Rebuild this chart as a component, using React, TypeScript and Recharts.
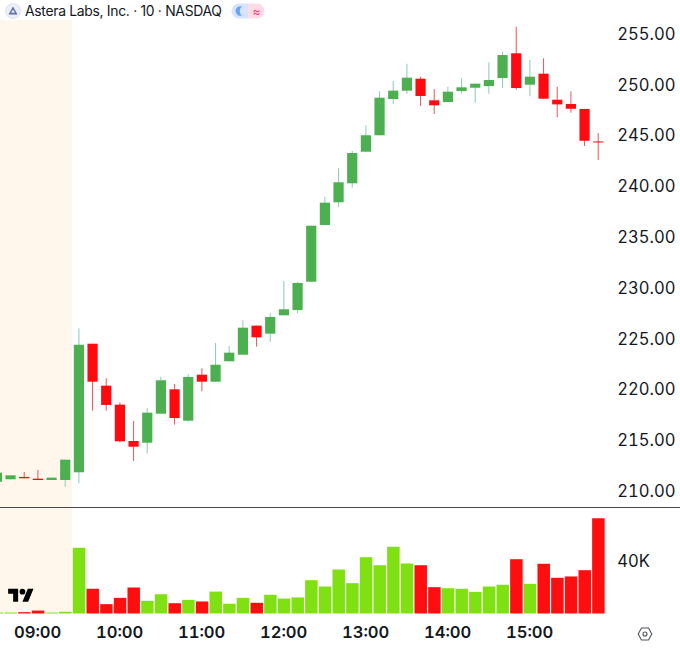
import { Bar, BarChart, Cell, ComposedChart, ReferenceArea, XAxis, YAxis } from "recharts";

const times = [
  "08:30", "08:40", "08:50", "09:00", "09:10", "09:20", "09:30", "09:40", "09:50",
  "10:00", "10:10", "10:20", "10:30", "10:40", "10:50", "11:00", "11:10", "11:20",
  "11:30", "11:40", "11:50", "12:00", "12:10", "12:20", "12:30", "12:40", "12:50",
  "13:00", "13:10", "13:20", "13:30", "13:40", "13:50", "14:00", "14:10", "14:20",
  "14:30", "14:40", "14:50", "15:00", "15:10", "15:20", "15:30", "15:40", "15:50",
];
const opens = [
  210.84, 211.08, 211.31, 211.14, 211.01, 211.01, 211.77, 224.43, 220.3,
  218.43, 214.85, 214.68, 217.54, 219.94, 216.85, 221.38, 220.69, 222.7,
  223.35, 226.21, 225.42, 227.23, 227.75, 230.54, 236.12, 238.36, 240.23,
  243.34, 244.96, 248.53, 249.35, 250.53, 248.4, 248.23, 249.32, 249.64,
  249.81, 250.6, 253.03, 249.94, 251.02, 248.46, 248.04, 247.55, 244.35,
];
const highs = [
  211.73, 211.47, 211.8, 212.0, 211.24, 213.01, 225.95, 224.43, 221.03,
  218.66, 216.82, 218.1, 221.18, 220.47, 221.42, 222.01, 224.5, 224.2,
  226.74, 226.21, 227.43, 230.58, 230.54, 236.05, 238.91, 241.71, 243.41,
  245.94, 249.29, 250.3, 252.0, 250.73, 249.51, 249.74, 250.57, 250.04,
  252.14, 253.16, 255.65, 252.37, 252.54, 249.74, 249.29, 247.55, 245.18,
];
const lows = [
  210.84, 211.08, 211.15, 211.0, 211.01, 210.35, 210.69, 217.84, 217.84,
  214.72, 212.88, 213.64, 217.54, 216.46, 216.75, 219.75, 220.69, 222.7,
  223.35, 224.14, 224.63, 227.23, 227.43, 230.54, 236.12, 237.9, 239.8,
  243.34, 244.96, 248.04, 249.05, 247.84, 247.05, 248.23, 249.09, 248.17,
  249.05, 249.61, 249.45, 248.83, 248.56, 246.73, 247.18, 243.9, 242.52,
];
const closes = [
  211.73, 211.47, 211.18, 211.01, 211.24, 213.01, 224.33, 220.69, 218.4,
  214.82, 214.29, 217.64, 220.83, 217.11, 221.16, 220.69, 222.36, 223.55,
  226.01, 225.06, 227.06, 227.82, 230.41, 236.05, 238.32, 240.33, 243.21,
  244.96, 248.66, 249.35, 250.63, 248.83, 247.91, 249.25, 249.68, 250.04,
  250.4, 252.86, 249.61, 250.73, 248.56, 248.0, 247.57, 244.42, 244.3,
];
const volumes = [
  700, 700, 1000, 2200, 700, 1300, 49100, 18500, 7000,
  11700, 19400, 9500, 14400, 7700, 10200, 9000, 16400, 7300,
  11700, 8000, 14000, 11200, 12000, 24900, 20200, 32900, 22700,
  42100, 36100, 49900, 37400, 36100, 19700, 18900, 18500, 16200,
  20200, 21500, 40600, 22200, 37200, 26700, 27700, 32400, 71300,
];
const priceTicks = [210, 215, 220, 225, 230, 235, 240, 245, 250, 255];
const volumeTicks = [40000];
const timeTicks = ["09:00", "10:00", "11:00", "12:00", "13:00", "14:00", "15:00"];

const chartData = times.map((time, i) => ({
  time,
  open: opens[i],
  high: highs[i],
  low: lows[i],
  close: closes[i],
  volume: volumes[i],
  range: [lows[i], highs[i]],
}));

const UP = "#4caf50";
const DOWN = "#ff0a0f";
const UP_WICK = "#86cbb6";
const DOWN_WICK = "#e8565c";
const VOL_UP = "#80e112";
const VOL_DOWN = "#ff0e10";
const SESSION = "#fff6ec";
const TEXT = "#131722";
const FONT = "Inter, 'Noto Sans', sans-serif";
const TNUM = { fontVariantNumeric: "tabular-nums" };

function Candle(props: any) {
  const { x, y, width, height, payload } = props;
  const { open, high, low, close } = payload;
  const toY = (v: number) => y + ((high - v) / (high - low)) * height;
  const up = close >= open;
  const top = toY(Math.max(open, close));
  const bottom = toY(Math.min(open, close));
  const mid = x + width / 2;
  return (
    <g>
      <line x1={mid} x2={mid} y1={y} y2={y + height} stroke={up ? UP_WICK : DOWN_WICK} strokeWidth={1} />
      <rect
        x={x}
        y={top}
        width={width}
        height={Math.max(bottom - top, 1)}
        fill={up ? UP : DOWN}
      />
    </g>
  );
}

function Header() {
  return (
    <div
      style={{
        position: "absolute",
        left: 0,
        top: 0,
        width: 300,
        height: 20,
        background: "#fff",
        fontFamily: FONT,
      }}
    >
      <svg width={18} height={18} style={{ position: "absolute", left: 4, top: 2 }}>
        <circle cx={9} cy={9} r={7.5} fill="#eceef8" stroke="#dfe2f0" />
        <path d="M9 4.5 L13.5 12.5 L4.5 12.5 Z M9 7.5 L7 10.8 L11 10.8 Z" fill="#5c6fa8" fillRule="evenodd" />
      </svg>
      <span
        style={{
          position: "absolute",
          left: 25,
          top: 1,
          fontSize: 13.9,
          letterSpacing: -0.3,
          lineHeight: "20px",
          color: TEXT,
          whiteSpace: "nowrap",
        }}
      >
        Astera Labs, Inc. · 10 · NASDAQ
      </span>
      <svg width={36} height={16} style={{ position: "absolute", left: 230, top: 3 }}>
        <path d="M9 0.5 H18 V15.5 H9 A7.5 7.5 0 0 1 9 0.5 Z" fill="#d6e4ff" />
        <path d="M18 0.5 H27 A7.5 7.5 0 0 1 27 15.5 H18 Z" fill="#ffdbe6" />
        <path d="M12 3.5 A4.8 4.8 0 1 0 12 12.5 A5.6 5.6 0 0 1 12 3.5 Z" fill="#6aa2f8" />
        <text x={26.5} y={12.5} fontSize={12} fill="#e8437c" textAnchor="middle" fontFamily={FONT}>
          ≈
        </text>
      </svg>
    </div>
  );
}

export default function App() {
  return (
    <div style={{ position: "absolute", left: 0, top: 0, width: 680, height: 649, background: "#fff", overflow: "hidden" }}>
      <div style={{ position: "absolute", left: 0, top: 0 }}>
        <ComposedChart
          width={680}
          height={507}
          data={chartData}
          barSize={10.2}
          margin={{ top: 0, right: 0, bottom: 0, left: -10.2 }}
        >
          <XAxis dataKey="time" hide />
          <YAxis
            orientation="right"
            width={75.2}
            domain={[208.35, 258.28]}
            ticks={priceTicks}
            tickFormatter={(v: number) => v.toFixed(2)}
            tick={{ fill: TEXT, fontSize: 16.6, fontFamily: FONT, dy: 0.7, style: TNUM }}
            tickLine={false}
            axisLine={false}
            tickSize={0}
            tickMargin={12.5}
          />
          <ReferenceArea x1="08:30" x2="09:20" fill={SESSION} fillOpacity={1} stroke="none" />
          <Bar dataKey="range" shape={<Candle />} isAnimationActive={false} />
        </ComposedChart>
      </div>
      <div style={{ position: "absolute", left: 0, top: 507, width: 680, height: 1, background: "#4a4a4a" }} />
      <div style={{ position: "absolute", left: 0, top: 508 }}>
        <BarChart
          width={680}
          height={141}
          data={chartData}
          barSize={12.5}
          margin={{ top: 0, right: 0, bottom: 0, left: -10.2 }}
        >
          <XAxis
            dataKey="time"
            ticks={timeTicks}
            interval={0}
            height={35.5}
            tick={{ fill: TEXT, fontSize: 16.6, fontWeight: 600, fontFamily: FONT, style: TNUM }}
            tickLine={false}
            axisLine={false}
            tickSize={0}
            tickMargin={13}
          />
          <YAxis
            orientation="right"
            width={75.2}
            domain={[0, 78880]}
            ticks={volumeTicks}
            tickFormatter={(v: number) => `${v / 1000}K`}
            tick={{ fill: TEXT, fontSize: 16.6, fontFamily: FONT, dy: 0.7, style: TNUM }}
            tickLine={false}
            axisLine={false}
            tickSize={0}
            tickMargin={12.5}
          />
          <ReferenceArea x1="08:30" x2="09:20" fill={SESSION} fillOpacity={1} stroke="none" />
          <Bar dataKey="volume" isAnimationActive={false}>
            {chartData.map((d) => (
              <Cell key={d.time} fill={d.close >= d.open ? VOL_UP : VOL_DOWN} />
            ))}
          </Bar>
        </BarChart>
      </div>
      <Header />
      <svg width={26} height={20} viewBox="0 0 36 28" style={{ position: "absolute", left: 8, top: 586 }}>
        <path d="M14 22H7V11H0V4h14v18zM28 22h-8l7.5-18h8L28 22z" fill="#000" />
        <circle cx={20} cy={8} r={4} fill="#000" />
      </svg>
      <svg width={16} height={16} style={{ position: "absolute", left: 636.5, top: 625.5 }}>
        <path d="M4.5 2 H11.5 L14.8 8 L11.5 14 H4.5 L1.2 8 Z" fill="none" stroke="#50535e" strokeWidth={1.1} />
        <circle cx={8} cy={8} r={2} fill="none" stroke="#50535e" strokeWidth={1.1} />
      </svg>
    </div>
  );
}
